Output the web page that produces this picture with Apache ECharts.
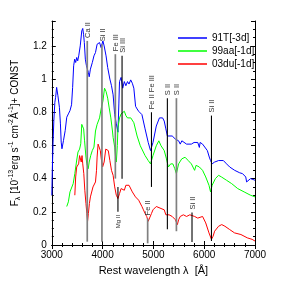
<!DOCTYPE html>
<html>
<head>
<meta charset="utf-8">
<script src="https://cdn.jsdelivr.net/npm/echarts@6/dist/echarts.min.js"></script>
<style>html,body{margin:0;padding:0;background:#fff}#c{width:281px;height:281px}</style>
</head>
<body>
<div id="c"></div>
<script>
// ---- data ----
const seriesNames = ['91T[-3d]', '99aa[-1d]', '03du[-1d]'];

const blueWave = [3000,3010,3025,3040,3060,3075,3095,3106,3120,3150,3170,3185,3200,3230,3264,3294,3326,3358,3389,3410,3430,3450,3470,3490,3510,3530,3560,3590,3609,3625,3640,3660,3680,3700,3720,3736,3760,3798,3830,3860,3892,3940,3970,4006,4030,4068,4100,4143,4175,4207,4238,4270,4302,4320,4333,4364,4396,4428,4458,4490,4520,4553,4585,4615,4649,4679,4709,4774,4836,4898,4943,4992,5057,5119,5181,5213,5245,5275,5308,5370,5434,5496,5528,5560,5653,5747,5800,5873,5905,5920,5968,6000,6062,6100,6125,6156,6200,6283,6377,6440,6502,6600,6700,6755,6818,6835,6849,6870,6912,6960,7000];
const blueFlux = [0.30,0.45,0.62,0.75,0.86,0.89,0.95,0.955,0.90,0.83,0.73,0.62,0.58,0.63,0.69,0.77,0.79,0.81,0.845,0.95,1.08,1.12,1.10,1.13,1.11,1.14,1.20,1.29,1.305,1.27,1.22,1.12,1.083,1.09,1.04,1.014,1.06,1.10,1.14,1.16,1.21,1.22,1.19,1.23,1.20,1.14,1.07,1.00,0.96,0.905,0.786,0.73,0.68,0.85,0.985,1.01,0.945,0.985,0.96,0.985,0.97,0.995,0.975,0.945,0.836,0.82,0.806,0.786,0.70,0.618,0.569,0.618,0.717,0.766,0.766,0.747,0.70,0.657,0.648,0.657,0.638,0.628,0.608,0.628,0.608,0.608,0.618,0.618,0.588,0.618,0.608,0.60,0.569,0.53,0.509,0.489,0.499,0.509,0.509,0.489,0.47,0.45,0.435,0.43,0.41,0.38,0.37,0.39,0.40,0.395,0.39];

const greenWave = [3294,3326,3358,3389,3421,3453,3485,3515,3547,3570,3590,3609,3627,3645,3672,3690,3717,3736,3767,3798,3830,3860,3892,3940,3974,4006,4038,4068,4100,4130,4162,4194,4207,4238,4255,4270,4290,4302,4333,4364,4396,4428,4458,4490,4520,4555,4585,4615,4679,4742,4836,4898,4943,4992,5057,5107,5150,5213,5257,5294,5340,5383,5421,5453,5496,5558,5623,5685,5747,5780,5811,5840,5905,5968,6030,6094,6125,6156,6220,6283,6340,6440,6540,6660,6786,6912,7000];
const greenFlux = [0.232,0.26,0.32,0.33,0.37,0.43,0.50,0.56,0.578,0.61,0.727,0.737,0.70,0.628,0.53,0.49,0.46,0.50,0.54,0.57,0.59,0.687,0.727,0.766,0.826,0.866,0.945,0.925,0.885,0.826,0.766,0.687,0.648,0.59,0.53,0.50,0.60,0.707,0.766,0.79,0.80,0.806,0.78,0.766,0.76,0.766,0.766,0.737,0.657,0.598,0.539,0.509,0.489,0.539,0.598,0.628,0.598,0.569,0.519,0.47,0.489,0.489,0.46,0.43,0.489,0.519,0.529,0.509,0.489,0.489,0.45,0.48,0.47,0.45,0.41,0.36,0.32,0.36,0.40,0.42,0.41,0.39,0.37,0.34,0.32,0.30,0.29];

const redWave = [3453,3470,3490,3528,3547,3566,3580,3595,3609,3630,3650,3672,3690,3704,3720,3740,3760,3790,3811,3840,3860,3880,3892,3911,3936,3955,3974,4000,4030,4062,4081,4112,4143,4175,4207,4238,4270,4302,4333,4364,4396,4428,4458,4490,4520,4553,4585,4615,4647,4710,4774,4804,4836,4868,4898,4962,4992,5057,5087,5150,5181,5213,5245,5275,5308,5340,5370,5402,5434,5472,5496,5528,5590,5653,5717,5811,5873,5905,5968,6000,6030,6094,6143,6175,6205,6283,6345,6408,6502,6597,6723,6849,6943,7000];
const redFlux = [0.30,0.41,0.47,0.489,0.539,0.548,0.50,0.539,0.489,0.43,0.33,0.25,0.19,0.143,0.19,0.25,0.29,0.30,0.35,0.34,0.38,0.45,0.53,0.608,0.618,0.569,0.519,0.47,0.50,0.578,0.59,0.569,0.509,0.45,0.42,0.35,0.30,0.28,0.31,0.34,0.35,0.33,0.36,0.37,0.36,0.35,0.32,0.31,0.29,0.27,0.232,0.212,0.19,0.172,0.143,0.19,0.212,0.232,0.232,0.22,0.232,0.212,0.182,0.172,0.182,0.19,0.172,0.162,0.152,0.123,0.152,0.172,0.182,0.172,0.182,0.172,0.162,0.172,0.172,0.162,0.133,0.073,0.034,0.053,0.083,0.113,0.123,0.113,0.093,0.073,0.063,0.043,0.034,0.024];

// line identifications: wavelength, top and bottom of the marker (flux units), label
const lineLam   = [3698, 3987, 4251, 4383, 4302, 4962, 4887, 5275, 5453, 5760, 6143];
const lineTop   = [1.23, 1.21, 1.15, 1.14, 0.35, 0.80, 0.16, 0.885, 0.885, 0.196, 0.78];
const lineBot   = [0.02, 0.02, 0.40, 0.40, 0.20, 0.35, 0.01, 0.095, 0.083, 0.018, 0.024];
const lineLabel = ['Ca II','Si II','Fe III','Si III','Mg II','Fe II Fe III','Fe II','S II','S II','Si II','Si II'];

const xTicks = [3000, 4000, 5000, 6000, 7000];
const yTicks = [0, 0.2, 0.4, 0.6, 0.8, 1, 1.2];

// ---- styling ----
const FONT = 'Liberation Sans';
const colors = ['#0000ff', '#00ff00', '#ff0000'];
const markerGray = [true, true, true, false, false, false, true, false, true, false, false];
const labelBelow = [false, false, false, false, true, false, false, false, false, false, false];

function zip(a, b) { return a.map((v, i) => [v, b[i]]); }

const chart = echarts.init(document.getElementById('c'), null, {renderer: 'canvas'});

const axisCommon = {
  axisLine: {show: true, lineStyle: {color: '#000', width: 1}},
  axisTick: {show: true, inside: true, length: 4, lineStyle: {color: '#000'}},
  minorTick: {show: true, length: 2, lineStyle: {color: '#000'}},
  splitLine: {show: false}
};

const option = {
  animation: false,
  backgroundColor: '#fff',
  grid: {left: 43, right: 26, top: 21, bottom: 32, containLabel: false},
  legend: {
    data: seriesNames,
    orient: 'vertical',
    left: 173, top: 27,
    icon: 'rect',
    itemWidth: 29, itemHeight: 1.5, itemGap: 1,
    selectedMode: false,
    textStyle: {fontFamily: FONT, fontSize: 10, color: '#000', lineHeight: 12}
  },
  xAxis: [
    Object.assign({}, axisCommon, {
      type: 'value', min: xTicks[0], max: xTicks[xTicks.length - 1], interval: 1000,
      minorTick: Object.assign({}, axisCommon.minorTick, {splitNumber: 5}),
      axisLabel: {fontFamily: FONT, fontSize: 10, color: '#000', margin: 5, formatter: v => String(v)},
      name: 'Rest wavelength \u03bb  [\u00c5]', nameLocation: 'middle', nameGap: 20,
      nameTextStyle: {fontFamily: FONT, fontSize: 11, color: '#000'}
    }),
    Object.assign({}, axisCommon, {
      type: 'value', position: 'top', min: xTicks[0], max: xTicks[xTicks.length - 1], interval: 1000,
      minorTick: Object.assign({}, axisCommon.minorTick, {splitNumber: 5}),
      axisLabel: {show: false}
    })
  ],
  yAxis: [
    Object.assign({}, axisCommon, {
      type: 'value', min: 0, max: 1.35, interval: 0.2,
      minorTick: Object.assign({}, axisCommon.minorTick, {splitNumber: 4}),
      axisLabel: {fontFamily: FONT, fontSize: 10, color: '#000', margin: 5, showMaxLabel: false,
        formatter: v => (yTicks.some(t => Math.abs(t - v) < 1e-6) ? String(+v.toFixed(1)) : '')},
      name: '{a|F}{sub|\u03bb}{a| [10}{sup|-13}{a|erg s}{sup|-1}{a| cm}{sup|-2}{a|\u00c5}{sup|-1}{a|]+ CONST}',
      nameLocation: 'middle', nameGap: 24, nameRotate: 90,
      nameTextStyle: {
        fontFamily: FONT, fontSize: 10, color: '#000',
        rich: {
          a: {fontFamily: FONT, fontSize: 10, color: '#000', lineHeight: 14, verticalAlign: 'middle'},
          sup: {fontFamily: FONT, fontSize: 7, color: '#000', lineHeight: 14, verticalAlign: 'top'},
          sub: {fontFamily: FONT, fontSize: 7, color: '#000', lineHeight: 14, verticalAlign: 'bottom'}
        }
      }
    }),
    Object.assign({}, axisCommon, {
      type: 'value', position: 'right', min: 0, max: 1.35, interval: 0.2,
      minorTick: Object.assign({}, axisCommon.minorTick, {splitNumber: 4}),
      axisLabel: {show: false}
    })
  ],
  series: [
    {name: seriesNames[0], type: 'line', data: zip(blueWave, blueFlux), symbol: 'none', color: colors[0], lineStyle: {width: 1, color: colors[0]}, z: 3},
    {name: seriesNames[1], type: 'line', data: zip(greenWave, greenFlux), symbol: 'none', color: colors[1], lineStyle: {width: 1, color: colors[1]}, z: 3},
    {name: seriesNames[2], type: 'line', data: zip(redWave, redFlux), symbol: 'none', color: colors[2], lineStyle: {width: 1, color: colors[2]}, z: 3},
    {
      type: 'custom', z: 5, silent: true,
      data: lineLam.map((l, i) => [l, lineTop[i], lineBot[i], i]),
      encode: {x: 0, y: [1, 2]},
      renderItem: function (params, api) {
        const i = api.value(3);
        const pTop = api.coord([api.value(0), api.value(1)]);
        const pBot = api.coord([api.value(0), api.value(2)]);
        const gray = markerGray[i];
        const below = labelBelow[i];
        return {
          type: 'group',
          children: [
            {type: 'line', shape: {x1: pTop[0], y1: pTop[1], x2: pBot[0], y2: pBot[1]},
             style: {stroke: gray ? '#808080' : '#000', lineWidth: gray ? 1.7 : 1.1}},
            {type: 'text', x: pTop[0] + 0.5, y: below ? pBot[1] + 3 : pTop[1] - 3, rotation: Math.PI / 2,
             style: {text: lineLabel[i], fontFamily: FONT, fontSize: below ? 6 : 7.5, fill: '#333',
                     align: below ? 'right' : 'left', verticalAlign: 'middle'}}
          ]
        };
      }
    }
  ]
};
chart.setOption(option);
</script>
</body>
</html>
